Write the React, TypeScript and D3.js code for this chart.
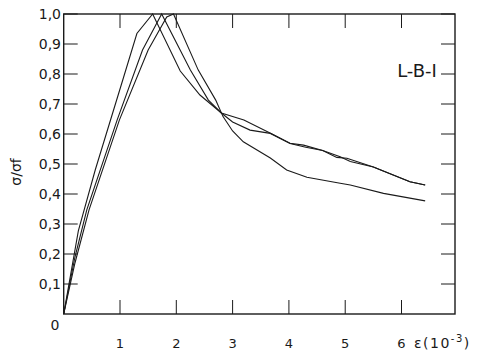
import React from "react";
import * as d3 from "d3";

const xTicks = [1, 2, 3, 4, 5, 6];
const yTicks = [0.1, 0.2, 0.3, 0.4, 0.5, 0.6, 0.7, 0.8, 0.9, 1.0];
const yTickLabels = ["0,1", "0,2", "0,3", "0,4", "0,5", "0,6", "0,7", "0,8", "0,9", "1,0"];

const curveA: [number, number][] = [
  [0, 0], [0.26, 0.277], [0.56, 0.48], [1.0, 0.75], [1.3, 0.935], [1.58, 1.0],
  [2.07, 0.81], [2.42, 0.73], [2.8, 0.67], [3.2, 0.647], [3.7, 0.6], [4.02, 0.569],
  [4.26, 0.563], [4.6, 0.545], [4.91, 0.524], [5.09, 0.508], [5.5, 0.49], [6.15, 0.441], [6.42, 0.43],
];
const curveB: [number, number][] = [
  [0, 0], [0.2, 0.19], [0.41, 0.347], [0.95, 0.647], [1.4, 0.88], [1.74, 1.0],
  [2.25, 0.813], [2.57, 0.713], [2.8, 0.67], [3.0, 0.64], [3.31, 0.613], [3.67, 0.602],
  [4.02, 0.568], [4.3, 0.556], [4.6, 0.545], [4.85, 0.522], [5.03, 0.519], [5.5, 0.49],
  [6.15, 0.441], [6.42, 0.43],
];
const curveC: [number, number][] = [
  [0, 0], [0.2, 0.17], [0.45, 0.347], [0.99, 0.647], [1.5, 0.88], [1.83, 0.99], [1.95, 1.0],
  [2.39, 0.813], [2.7, 0.713], [2.83, 0.658], [3.0, 0.61], [3.19, 0.574], [3.67, 0.52],
  [3.96, 0.48], [4.32, 0.456], [4.91, 0.436], [5.09, 0.43], [5.68, 0.402], [6.42, 0.377],
];
const series = [curveA, curveB, curveC];

const W = 482;
const H = 352;
const x = d3.scaleLinear().domain([0, 6.95]).range([63.7, 455]);
const y = d3.scaleLinear().domain([0, 1]).range([314, 14]);

export default function App() {
  const line = d3
    .line<[number, number]>()
    .x((d) => x(d[0]))
    .y((d) => y(d[1]))
    .curve(d3.curveLinear);
  const font = "'DejaVu Sans', 'Liberation Sans', sans-serif";
  const ink = "#1a1a1a";
  const tl = 14;
  return (
    <svg
      width={W}
      height={H}
      style={{ position: "fixed", left: 0, top: 0, background: "#fff" }}
      fontFamily={font}
    >
      <rect x={0} y={0} width={W} height={H} fill="#fff" />
      <rect
        x={x(0)}
        y={y(1)}
        width={x(6.95) - x(0)}
        height={y(0) - y(1)}
        fill="none"
        stroke={ink}
        strokeWidth={1.4}
      />
      {xTicks.map((t) => (
        <g key={"xt" + t}>
          <line x1={x(t)} x2={x(t)} y1={y(0)} y2={y(0) - tl} stroke={ink} strokeWidth={1} />
          <line x1={x(t)} x2={x(t)} y1={y(1)} y2={y(1) + tl} stroke={ink} strokeWidth={1} />
          <text x={x(t)} y={348} fontSize={13} textAnchor="middle" fill={ink}>
            {t}
          </text>
        </g>
      ))}
      {yTicks.map((t, i) => (
        <g key={"yt" + t}>
          <line x1={x(0)} x2={x(0) + tl} y1={y(t)} y2={y(t)} stroke={ink} strokeWidth={1} />
          <line x1={x(6.95)} x2={x(6.95) - tl} y1={y(t)} y2={y(t)} stroke={ink} strokeWidth={1} />
          <text x={61} y={y(t) + 5} fontSize={14} textAnchor="end" fill={ink}>
            {yTickLabels[i]}
          </text>
        </g>
      ))}
      <text x={55} y={330} fontSize={14} textAnchor="middle" fill={ink}>
        0
      </text>
      <text x={414} y={348} fontSize={14} letterSpacing={1.5} fill={ink}>
        ε(10
        <tspan dy={-6} fontSize={10}>-3</tspan>
        <tspan dy={6}>)</tspan>
      </text>
      <text
        transform="translate(21,172) rotate(-90)"
        fontSize={14}
        textAnchor="middle"
        fill={ink}
      >
        σ/σf
      </text>
      <text x={417} y={77} fontSize={18} textAnchor="middle" fill={ink}>
        L-B-I
      </text>
      {series.map((s, i) => (
        <path key={i} d={line(s) || ""} fill="none" stroke={ink} strokeWidth={1.1} />
      ))}
    </svg>
  );
}
